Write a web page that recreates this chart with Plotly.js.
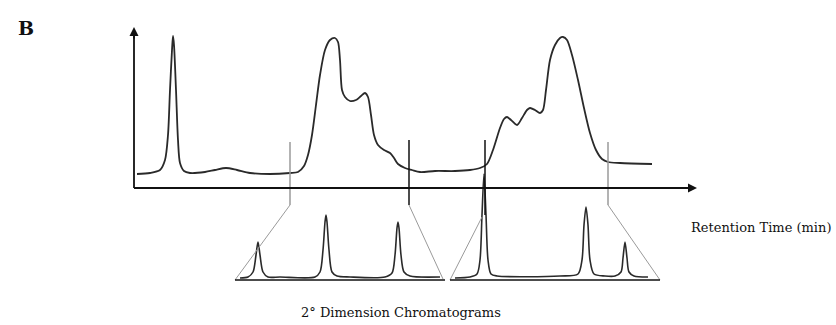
<!DOCTYPE html>
<html><head><meta charset="utf-8">
<script src="https://cdn.plot.ly/plotly-3.0.1.min.js"></script>
<style>html,body{margin:0;padding:0;background:#fff}#c{width:836px;height:325px}</style>
</head><body><div id="c"></div>
<script>
// Coordinates are in the drawing's own units (x: retention position, y: depth from top)
// 1st-dimension chromatogram
const mainX = [137,150,160,165,168,170,172,173,174,176,178,180,184,190,205,215,226,237,250,270,290,298,304,308,312,316,320,325,330,335,338,340,342,345,350,356,361,365,368,371,374,378,384,390,394,398,405,412,420,435,455,470,480,487,493,500,504,507,511,517,522,527,530,535,540,543,546,550,555,560,563,567,572,578,584,590,596,602,608,620,652];
const mainY = [174,173,170,160,135,90,50,36,45,90,140,163,171,173,172,170,168,170,173,174,173,172,166,155,135,105,75,50,40,38,42,60,90,97,101,100,96,93,97,115,135,145,150,153,158,164,168,170,172,171,171,170,168,164,150,128,119,117,120,125,118,110,108,110,113,110,90,60,45,38,37,40,55,80,108,133,150,159,162,163,164];
// 2nd-dimension chromatogram, left fraction
const sec1X = [240,248,253,256,258,260,263,268,280,315,320,323,325,326,327,329,332,337,350,385,392,395,397,398,399,401,404,410,440];
const sec1Y = [278,277,272,255,242,255,272,277,277,277,272,250,222,215,222,250,272,276,277,277,273,255,228,222,228,255,272,276,277];
// 2nd-dimension chromatogram, right fraction
const sec2X = [455,470,477,480,482,484,486,488,491,497,560,578,582,584,586,588,590,594,605,615,621,623,625,627,629,634,648];
const sec2Y = [278,277,274,260,215,174,215,260,274,276,276,274,260,225,207,225,260,274,276,276,272,258,242,258,272,276,277];
// fraction cut positions and their style
const cutX = [290,409,485,608];
const cutTop = [142,140,140,142];
const cutBottom = [205,205,215,205];
const cutColor = ['#9a9a9a','#111','#111','#9a9a9a'];
// trapezoid bases
const base1 = [235,445], base2 = [450,660], baseY = 280;

const traces = [];
function line(x,y,color,width,shape){
  traces.push({x:x,y:y,mode:'lines',type:'scatter',hoverinfo:'skip',
    line:{color:color,width:width,shape:shape||'linear',smoothing:0.8}});
}
line(mainX,mainY,'#2a2a2a',1.8,'spline');
line(sec1X,sec1Y,'#2a2a2a',1.6,'spline');
line(sec2X,sec2Y,'#2a2a2a',1.6,'spline');
for(let i=0;i<cutX.length;i++) line([cutX[i],cutX[i]],[cutTop[i],cutBottom[i]],cutColor[i],1.5);
// funnel sides
line([cutX[0],base1[0]],[cutBottom[0],baseY],'#9a9a9a',1);
line([cutX[1],base1[1]-2],[cutBottom[1],baseY-1],'#9a9a9a',1);
line([cutX[2]-3,base2[0]],[cutBottom[2]+2,baseY],'#9a9a9a',1);
line([cutX[3],base2[1]],[cutBottom[3],baseY],'#9a9a9a',1);
line(base1,[baseY,baseY],'#111',1.5);
line(base2,[baseY,baseY],'#111',1.5);
// axes
line([134,134],[188,34],'#111',1.8);
line([134,690],[188,188],'#111',1.8);

const layout = {
  width:836,height:325,margin:{l:0,r:0,t:0,b:0},
  paper_bgcolor:'#fff',plot_bgcolor:'#fff',showlegend:false,
  xaxis:{range:[0,836],visible:false,fixedrange:true},
  yaxis:{range:[325,0],visible:false,fixedrange:true},
  annotations:[
    {x:134,y:27,ax:134,ay:40,xref:'x',yref:'y',axref:'x',ayref:'y',text:'',showarrow:true,arrowhead:2,arrowsize:1,arrowwidth:1.8,arrowcolor:'#111'},
    {x:697,y:188,ax:684,ay:188,xref:'x',yref:'y',axref:'x',ayref:'y',text:'',showarrow:true,arrowhead:2,arrowsize:1,arrowwidth:1.8,arrowcolor:'#111'},
    {x:16,y:28,xref:'x',yref:'y',text:'<b>B</b>',showarrow:false,xanchor:'left',yanchor:'middle',font:{family:'DejaVu Serif',size:19,color:'#111'}},
    {x:689,y:227,xref:'x',yref:'y',text:'Retention Time (min)',showarrow:false,xanchor:'left',yanchor:'middle',font:{family:'DejaVu Serif',size:13,color:'#111'}},
    {x:299,y:312,xref:'x',yref:'y',text:'2° Dimension Chromatograms',showarrow:false,xanchor:'left',yanchor:'middle',font:{family:'DejaVu Serif',size:13,color:'#111'}}
  ]
};
Plotly.newPlot('c',traces,layout,{staticPlot:true,displayModeBar:false});
</script></body></html>
